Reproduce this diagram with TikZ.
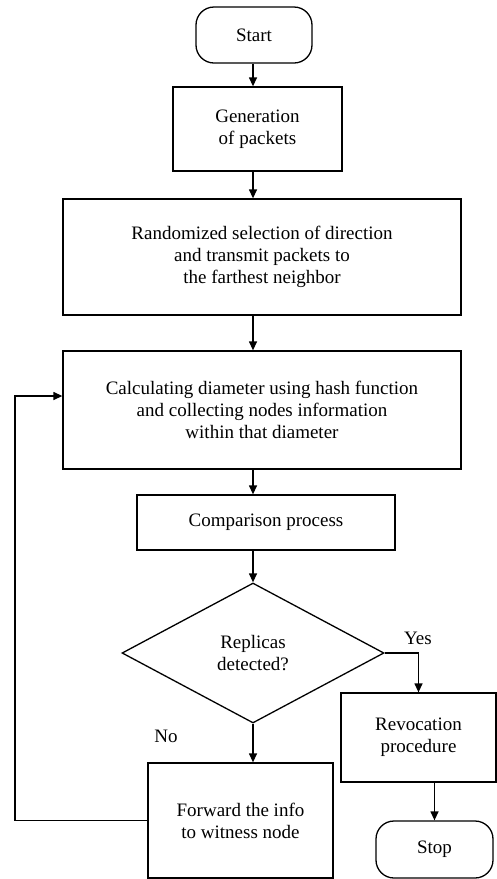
\documentclass[tikz,border=0pt]{standalone}
\usepackage{fontspec}
\setmainfont{Liberation Serif}
\usetikzlibrary{shapes.geometric,arrows.meta}

\begin{document}
\begin{tikzpicture}[x=1pt, y=-1pt, line width=1.3pt,
    every node/.style={font=\fontsize{19}{22}\selectfont, align=center},
    box/.style={draw, rectangle, inner sep=0pt},
    term/.style={draw, rectangle, rounded corners=18pt, inner sep=0pt},
    decision/.style={draw, diamond, inner sep=0pt},
    flow/.style={-{Triangle[length=9pt,width=8pt]}}]
        \useasboundingbox (0,0) rectangle (497,879);
        \coordinate (axis) at (253,0);
        \coordinate (back) at (15,396);
        \node[term, minimum width=116pt, minimum height=56pt] (start) at (254,35) {Start};
        \node[box, minimum width=169pt, minimum height=84pt] (gen) at (257.5,129) {Generation\\of packets};
        \node[box, minimum width=398pt, minimum height=116pt] (rand) at (262,257) {Randomized selection of direction\\and transmit packets to\\the farthest neighbor};
        \node[box, minimum width=398pt, minimum height=118pt] (calc) at (262,410) {Calculating diameter using hash function\\and collecting nodes information\\within that diameter};
        \node[box, minimum width=258pt, minimum height=55pt] (comp) at (266,522.5) {Comparison process};
        \node[decision, minimum width=262pt, minimum height=140pt] (dec) at (253,653) {Replicas\\detected?};
        \node[box, minimum width=185pt, minimum height=115pt] (fwd) at (240.5,820.5) {Forward the info\\to witness node};
        \node[box, minimum width=155pt, minimum height=89pt] (revoc) at (418.5,737.5) {Revocation\\procedure};
        \node[term, minimum width=117pt, minimum height=57pt] (stop) at (434.5,849.5) {Stop};
        \node (yes) at (418,638) {Yes};
        \node (no) at (166,736) {No};
        \draw[flow] (start.south -| axis) -- (gen.north -| axis);
        \draw[flow] (gen.south -| axis) -- (rand.north -| axis);
        \draw[flow] (rand.south -| axis) -- (calc.north -| axis);
        \draw[flow] (calc.south -| axis) -- (comp.north -| axis);
        \draw[flow] (comp.south -| axis) -- (dec.north);
        \draw[flow] (dec.south) -- (dec.south |- fwd.north);
        \draw[flow] (dec.east) -| (revoc.north);
        \draw[flow] (revoc.south -| stop.north) -- (stop.north);
        \draw[flow] (fwd.west) -| (back) -- (back -| calc.west);
\end{tikzpicture}
\end{document}
